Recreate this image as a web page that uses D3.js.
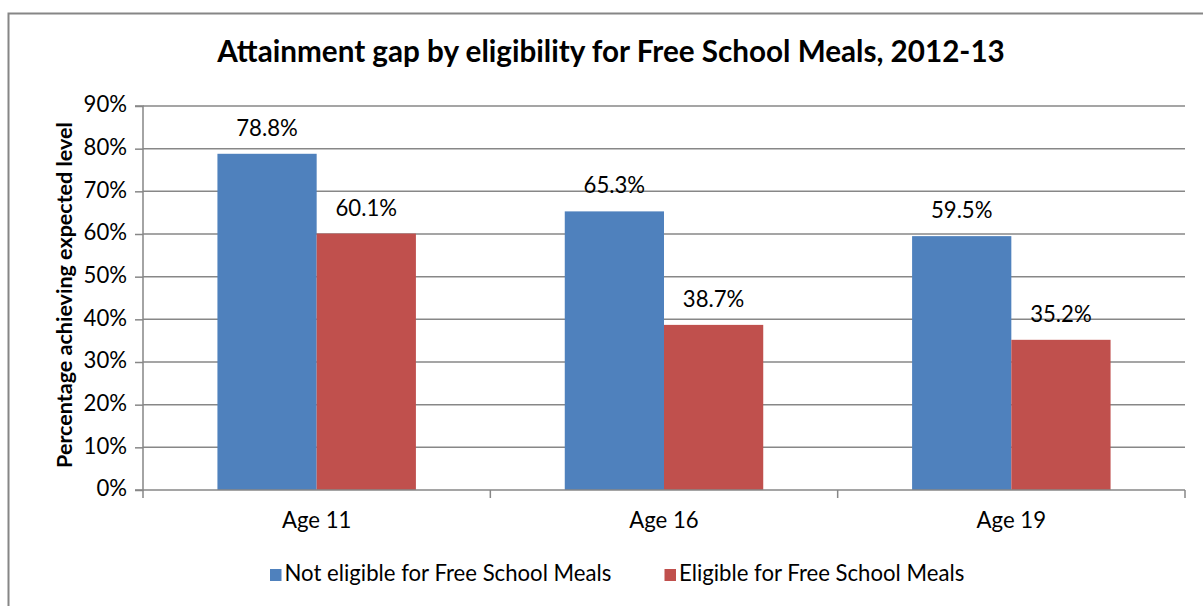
<!DOCTYPE html>
<html><head><meta charset="utf-8">
<script src="https://cdn.jsdelivr.net/npm/d3@7"></script>
<style>body{margin:0;background:#fff;} text{font-family:Lato, "Open Sans", sans-serif;}</style>
</head><body>
<svg id="c" width="1203" height="606"></svg>
<script>
const categories = ["Age 11", "Age 16", "Age 19"];
const seriesNames = ["Not eligible for Free School Meals", "Eligible for Free School Meals"];
const notEligible = [78.8, 65.3, 59.5];
const eligible = [60.1, 38.7, 35.2];
const yTicks = [0, 10, 20, 30, 40, 50, 60, 70, 80, 90];
const colors = ["#4F81BD", "#C0504D"];
const titleText = "Attainment gap by eligibility for Free School Meals, 2012-13";
const yTitleText = "Percentage achieving expected level";

const svg = d3.select("#c");
const pL = 143, pR = 1185, pT = 106, pB = 490;

// font sizes fitted to the reference text widths
function fitSize(txt, weight, target) {
  const t = svg.append("text").attr("font-size", 100).attr("font-weight", weight).text(txt);
  const w = t.node().getComputedTextLength();
  t.remove();
  return 100 * target / w;
}
const fs = fitSize(seriesNames[0], "normal", 327);
const fsTitle = fitSize(titleText, "bold", 788);
const fsYTitle = fitSize(yTitleText, "bold", 346);

// outer border
svg.append("rect").attr("x", 8.5).attr("y", 13.5).attr("width", 1220).attr("height", 620)
  .attr("fill", "none").attr("stroke", "#868686").attr("stroke-width", 2);

const x0 = d3.scaleBand().domain(categories).range([pL, pR]);
const y = d3.scaleLinear().domain([0, 90]).range([pB, pT]);

// gridlines
svg.append("g").selectAll("line").data(yTicks.slice(1)).join("line")
  .attr("x1", pL).attr("x2", pR).attr("y1", d => y(d)).attr("y2", d => y(d))
  .attr("stroke", "#878787").attr("stroke-width", 1.5);

// bars (Excel gap width 150%)
const band = x0.bandwidth();
const barW = band / 3.5;
const gap = (band - 2 * barW) / 2;
const data = categories.map((c, i) => ({c, vals: [notEligible[i], eligible[i]]}));
const g = svg.append("g");
data.forEach(d => {
  d.vals.forEach((v, j) => {
    const bx = x0(d.c) + gap + j * barW;
    g.append("rect").attr("x", bx).attr("y", y(v)).attr("width", barW).attr("height", y(0) - y(v))
      .attr("fill", colors[j]);
    g.append("text").attr("x", bx + barW / 2).attr("y", y(v) - 18).attr("text-anchor", "middle")
      .attr("font-size", fs).attr("fill", "#000").text(v.toFixed(1) + "%");
  });
});

// y axis
const yAxis = d3.axisLeft(y).tickValues(yTicks).tickSize(8).tickFormat(d => d + "%");
const ya = svg.append("g").attr("transform", `translate(${pL},0)`).call(yAxis);
ya.select(".domain").attr("stroke", "#878787").attr("stroke-width", 1.5).attr("d", `M-8,${pT}H0V${pB}H-8`);
ya.selectAll(".tick line").attr("stroke", "#878787").attr("stroke-width", 1.5);
ya.selectAll(".tick text").attr("font-size", fs).attr("fill", "#000").attr("x", -16)
  .attr("dy", null).attr("y", 5.7).attr("font-family", "Lato, sans-serif");

// x axis
const xa = svg.append("g").attr("transform", `translate(0,${pB})`);
xa.append("line").attr("x1", pL).attr("x2", pR).attr("stroke", "#878787").attr("stroke-width", 1.5);
const bounds = categories.map(c => x0(c)).concat([pR]);
xa.selectAll("line.tk").data(bounds).join("line").attr("class", "tk")
  .attr("x1", d => d).attr("x2", d => d).attr("y1", 0).attr("y2", 8)
  .attr("stroke", "#878787").attr("stroke-width", 1.5);
xa.selectAll("text.lb").data(categories).join("text").attr("class", "lb")
  .attr("x", d => x0(d) + band / 2).attr("y", 38.3).attr("text-anchor", "middle")
  .attr("font-size", fs).attr("fill", "#000").text(d => d);

// title
svg.append("text").attr("x", 611).attr("y", 62).attr("text-anchor", "middle")
  .attr("font-size", fsTitle).attr("font-weight", "bold").attr("fill", "#000")
  .text(titleText);

// y axis title
svg.append("text").attr("transform", `translate(72,295) rotate(-90)`)
  .attr("text-anchor", "middle").attr("font-size", fsYTitle).attr("font-weight", "bold").attr("fill", "#000")
  .text(yTitleText);

// legend
const legX = [270, 664.5];
const lg = svg.append("g");
seriesNames.forEach((s, i) => {
  lg.append("rect").attr("x", legX[i]).attr("y", 569).attr("width", 11.5).attr("height", 12).attr("fill", colors[i]);
  lg.append("text").attr("x", legX[i] + 14.5).attr("y", 581).attr("font-size", fs).attr("fill", "#000").text(s);
});
</script>
</body></html>
